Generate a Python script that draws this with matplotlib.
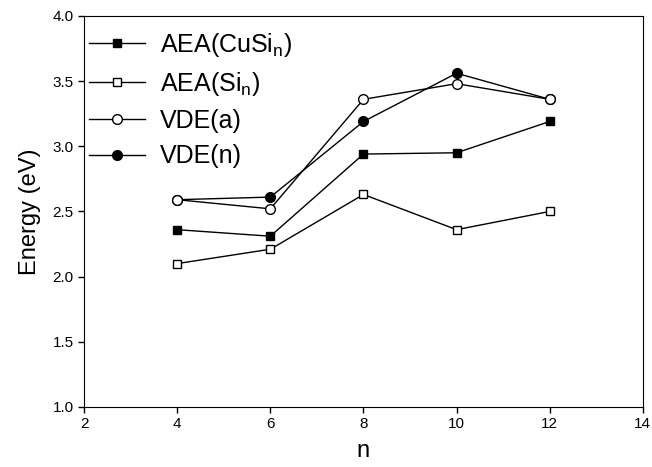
import matplotlib.pyplot as plt

plt.rcParams['font.family'] = ['Liberation Sans', 'DejaVu Sans']
plt.rcParams['mathtext.fontset'] = 'custom'
plt.rcParams['mathtext.rm'] = 'Liberation Sans'
plt.rcParams['mathtext.it'] = 'Liberation Sans'

n = [4, 6, 8, 10, 12]
aea_cusi = [2.36, 2.31, 2.94, 2.95, 3.19]
aea_si = [2.10, 2.21, 2.63, 2.36, 2.50]
vde_a = [2.59, 2.52, 3.36, 3.48, 3.36]
vde_n = [2.59, 2.61, 3.19, 3.56, 3.36]

fig = plt.figure(figsize=(6.52, 4.67), dpi=100)
ax = fig.add_axes([0.129, 0.1285, 0.857, 0.8375])

ax.plot(n, aea_cusi, '-s', color='black', mfc='black', mec='black', ms=6, lw=1,
        label='AEA(CuSi$_{\\rm n}$)', zorder=3)
ax.plot(n, aea_si, '-s', color='black', mfc='white', mec='black', ms=6, lw=1,
        label='AEA(Si$_{\\rm n}$)', zorder=3)
ax.plot(n, vde_a, '-o', color='black', mfc='white', mec='black', ms=7, lw=1,
        label='VDE(a)', zorder=4)
ax.plot(n, vde_n, '-o', color='black', mfc='black', mec='black', ms=7, lw=1,
        label='VDE(n)', zorder=3)

ax.set_xlim(2, 14)
ax.set_ylim(1.0, 4.0)
ax.set_xticks([2, 4, 6, 8, 10, 12, 14])
ax.set_yticks([1.0, 1.5, 2.0, 2.5, 3.0, 3.5, 4.0])
ax.set_yticklabels(['1.0', '1.5', '2.0', '2.5', '3.0', '3.5', '4.0'])
ax.tick_params(direction='out', length=4, width=1, labelsize=11)
ax.set_xlabel('n', fontsize=17, labelpad=6)
ax.set_ylabel('Energy (eV)', fontsize=17, labelpad=8)

ax.legend(loc='upper left', frameon=False, fontsize=18, handlelength=2.25,
          labelspacing=0.45, borderaxespad=0.0, borderpad=0.2,
          handletextpad=0.6, bbox_to_anchor=(0.0, 0.975))

fig.savefig('out.png', dpi=100)
